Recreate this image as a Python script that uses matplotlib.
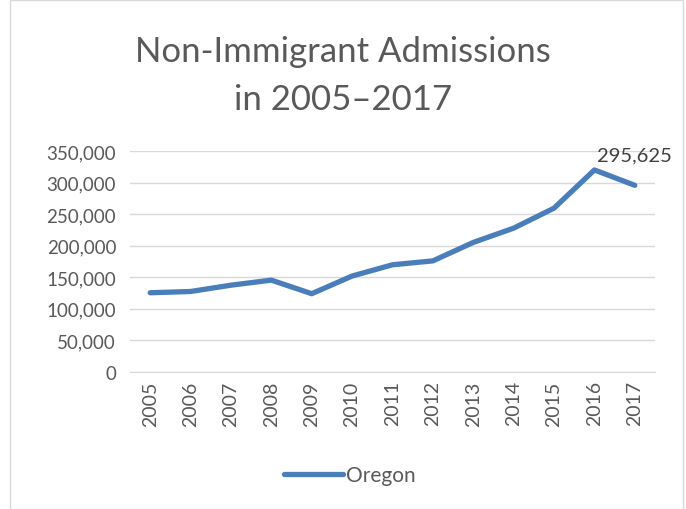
import matplotlib
matplotlib.use("Agg")
import matplotlib.pyplot as plt
from matplotlib.patches import Rectangle
from matplotlib.ticker import FuncFormatter, MultipleLocator

years = ["2005", "2006", "2007", "2008", "2009", "2010", "2011",
         "2012", "2013", "2014", "2015", "2016", "2017"]
oregon = [125500, 127500, 137500, 145500, 124000, 152000, 169800,
          176000, 205200, 227800, 259500, 320000, 295625]

plt.rcParams['font.family'] = ['Lato', 'DejaVu Sans']
txt = '#595959'
line_color = '#4a7ebb'

fig = plt.figure(figsize=(6.86, 5.10), dpi=100)
fig.patches.append(Rectangle((10/686, 0.0), 673/686, 0.999, transform=fig.transFigure,
                             fill=False, edgecolor='#d9d9d9', linewidth=1.0))
ax = fig.add_axes([130/686, 1-373/510, 525/686, 221/510])

x = list(range(len(years)))
ax.plot(x, oregon, color=line_color, linewidth=3.8, solid_capstyle='round',
        solid_joinstyle='round', label='Oregon', zorder=3)
ax.annotate(f"{oregon[-1]:,}", xy=(x[-1], oregon[-1]), xytext=(0, 22),
            textcoords='offset points', ha='center', va='center',
            fontsize=14.5, color='#404040')

ax.set_xlim(-0.5, len(years) - 0.5)
ax.set_ylim(0, 350000)
ax.yaxis.set_major_locator(MultipleLocator(50000))
ax.yaxis.set_major_formatter(FuncFormatter(lambda v, p: f"{int(v):,}"))
ax.set_xticks(x)
ax.set_xticklabels(years, rotation=90)
ax.grid(axis='y', color='#d9d9d9', linewidth=1.0)
ax.set_axisbelow(True)
for s in ['top', 'right', 'left']:
    ax.spines[s].set_visible(False)
ax.spines['bottom'].set_color('#d9d9d9')
ax.tick_params(axis='both', length=0, colors=txt)
ax.tick_params(axis='y', pad=10, labelsize=13.5)
ax.tick_params(axis='x', pad=6, labelsize=14)

fig.text(0.5, 1-52/510, "Non-Immigrant Admissions", ha='center', va='center',
         fontsize=25, color=txt)
fig.text(0.5, 1-100/510, "in 2005\u20132017", ha='center', va='center',
         fontsize=25, color=txt)

fig.legend(loc='center', bbox_to_anchor=(350/686, 1-476/510), frameon=False,
           fontsize=15, labelcolor=txt, handlelength=2.8, handletextpad=0.15)

fig.savefig("out.png", dpi=100)
